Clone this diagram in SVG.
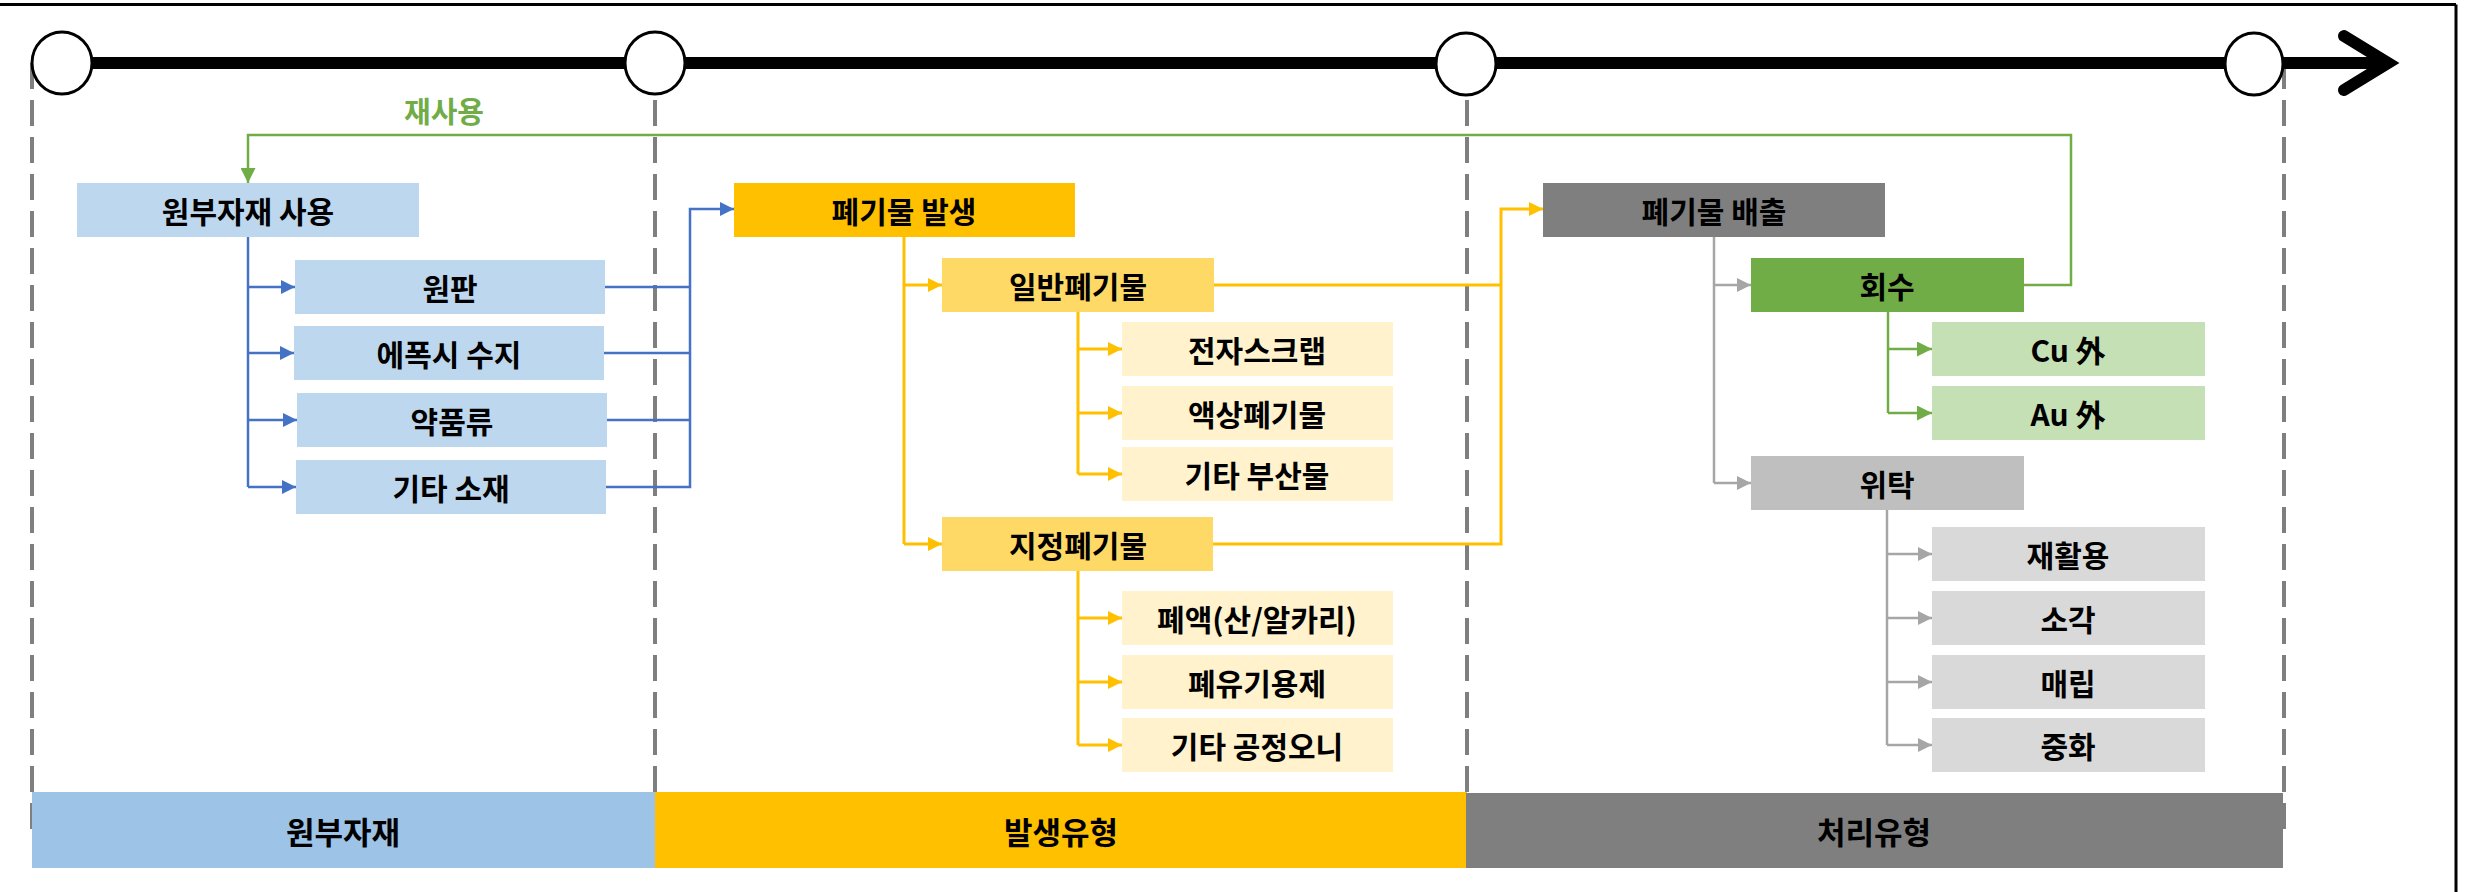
<svg xmlns="http://www.w3.org/2000/svg" width="2471" height="892" viewBox="0 0 2471 892">
<style>
text{font-family:"Noto Sans CJK KR","Noto Sans",sans-serif;font-weight:bold;font-size:30px;fill:#000;text-anchor:middle;dominant-baseline:central}
.band{font-size:31px}
.dash{stroke:#7f7f7f;stroke-width:4;stroke-dasharray:26 11;fill:none}
.cb{stroke:#4472c4;stroke-width:2.5;fill:none}
.co{stroke:#ffc000;stroke-width:3;fill:none}
.cg{stroke:#a6a6a6;stroke-width:2.5;fill:none}
.cgr{stroke:#70ad47;stroke-width:2.5;fill:none}
.circ{fill:#fff;stroke:#000;stroke-width:3}
</style>
<defs>
<marker id="ab" viewBox="0 0 10 10" refX="10" refY="5" markerWidth="15" markerHeight="14" markerUnits="userSpaceOnUse" orient="auto"><path d="M0,0L10,5L0,10z" fill="#4472c4"/></marker>
<marker id="ao" viewBox="0 0 10 10" refX="10" refY="5" markerWidth="15" markerHeight="14" markerUnits="userSpaceOnUse" orient="auto"><path d="M0,0L10,5L0,10z" fill="#ffc000"/></marker>
<marker id="ag" viewBox="0 0 10 10" refX="10" refY="5" markerWidth="16" markerHeight="14" markerUnits="userSpaceOnUse" orient="auto"><path d="M0,0L10,5L0,10z" fill="#a6a6a6"/></marker>
<marker id="agr" viewBox="0 0 10 10" refX="10" refY="5" markerWidth="16" markerHeight="15" markerUnits="userSpaceOnUse" orient="auto"><path d="M0,0L10,5L0,10z" fill="#70ad47"/></marker>
</defs>
<rect width="2471" height="892" fill="#fff"/>
<g id="frame">
<line x1="0" y1="4.5" x2="2456" y2="4.5" stroke="#000" stroke-width="3"/>
<line x1="2456" y1="4.5" x2="2456" y2="892" stroke="#000" stroke-width="3"/>
</g>
<g id="guides">
<line class="dash" x1="32" y1="63" x2="32" y2="830"/>
<line class="dash" x1="655" y1="63" x2="655" y2="792"/>
<line class="dash" x1="1467" y1="63" x2="1467" y2="792"/>
<line class="dash" x1="2284" y1="63" x2="2284" y2="830"/>
</g>
<g id="timeline">
<line x1="62" y1="63" x2="2388" y2="63" stroke="#000" stroke-width="12"/>
<polyline points="2344,36 2388,63 2344,90" fill="none" stroke="#000" stroke-width="12" stroke-linecap="round" stroke-linejoin="miter"/>
<ellipse class="circ" cx="62" cy="63" rx="30" ry="31"/>
<ellipse class="circ" cx="655" cy="63" rx="30" ry="31"/>
<ellipse class="circ" cx="1466" cy="64" rx="30" ry="31"/>
<ellipse class="circ" cx="2254" cy="64" rx="29" ry="31"/>
</g>
<g id="connectors">
<polyline class="cb" points="248,237 248,487"/>
<polyline class="cb" points="248,287 295,287" marker-end="url(#ab)"/>
<polyline class="cb" points="248,353 294,353" marker-end="url(#ab)"/>
<polyline class="cb" points="248,420 297,420" marker-end="url(#ab)"/>
<polyline class="cb" points="248,487 296,487" marker-end="url(#ab)"/>
<polyline class="cb" points="605,287 690,287"/>
<polyline class="cb" points="604,353 690,353"/>
<polyline class="cb" points="607,420 690,420"/>
<polyline class="cb" points="606,487 690,487 690,209 734,209" marker-end="url(#ab)"/>
<polyline class="co" points="904,237 904,544"/>
<polyline class="co" points="904,285 942,285" marker-end="url(#ao)"/>
<polyline class="co" points="904,544 942,544" marker-end="url(#ao)"/>
<polyline class="co" points="1078,312 1078,474"/>
<polyline class="co" points="1078,349 1122,349" marker-end="url(#ao)"/>
<polyline class="co" points="1078,413 1122,413" marker-end="url(#ao)"/>
<polyline class="co" points="1078,474 1122,474" marker-end="url(#ao)"/>
<polyline class="co" points="1078,571 1078,745"/>
<polyline class="co" points="1078,618 1122,618" marker-end="url(#ao)"/>
<polyline class="co" points="1078,682 1122,682" marker-end="url(#ao)"/>
<polyline class="co" points="1078,745 1122,745" marker-end="url(#ao)"/>
<polyline class="co" points="1214,285 1501,285"/>
<polyline class="co" points="1213,544 1501,544 1501,209 1543,209" marker-end="url(#ao)"/>
<polyline class="cg" points="1714,237 1714,483"/>
<polyline class="cg" points="1714,285 1751,285" marker-end="url(#ag)"/>
<polyline class="cg" points="1714,483 1751,483" marker-end="url(#ag)"/>
<polyline class="cg" points="1887,510 1887,745"/>
<polyline class="cg" points="1887,554 1932,554" marker-end="url(#ag)"/>
<polyline class="cg" points="1887,618 1932,618" marker-end="url(#ag)"/>
<polyline class="cg" points="1887,682 1932,682" marker-end="url(#ag)"/>
<polyline class="cg" points="1887,745 1932,745" marker-end="url(#ag)"/>
<polyline class="cgr" points="1888,312 1888,413"/>
<polyline class="cgr" points="1888,349 1932,349" marker-end="url(#agr)"/>
<polyline class="cgr" points="1888,413 1932,413" marker-end="url(#agr)"/>
<polyline class="cgr" points="2024,285 2071,285 2071,135 248,135 248,183" marker-end="url(#agr)"/>
<text x="444" y="110" style="fill:#70ad47;font-size:29px">재사용</text>
</g>
<g id="n-raw-use"><rect x="77" y="183" width="342" height="54" fill="#bdd7ee"/><text x="248" y="210">원부자재 사용</text></g>
<g id="n-wonpan"><rect x="295" y="260" width="310" height="54" fill="#bdd7ee"/><text x="450" y="287">원판</text></g>
<g id="n-epoxy"><rect x="294" y="326" width="310" height="54" fill="#bdd7ee"/><text x="449" y="353">에폭시 수지</text></g>
<g id="n-chem"><rect x="297" y="393" width="310" height="54" fill="#bdd7ee"/><text x="452" y="420">약품류</text></g>
<g id="n-etc-mat"><rect x="296" y="460" width="310" height="54" fill="#bdd7ee"/><text x="451" y="487">기타 소재</text></g>
<g id="n-waste-gen"><rect x="734" y="183" width="341" height="54" fill="#ffc000"/><text x="904" y="210">폐기물 발생</text></g>
<g id="n-general"><rect x="942" y="258" width="272" height="54" fill="#ffd966"/><text x="1078" y="285">일반폐기물</text></g>
<g id="n-escrap"><rect x="1122" y="322" width="271" height="54" fill="#fff2cc"/><text x="1257" y="349">전자스크랩</text></g>
<g id="n-liquid"><rect x="1122" y="386" width="271" height="54" fill="#fff2cc"/><text x="1257" y="413">액상폐기물</text></g>
<g id="n-byprod"><rect x="1122" y="447" width="271" height="54" fill="#fff2cc"/><text x="1257" y="474">기타 부산물</text></g>
<g id="n-designated"><rect x="942" y="517" width="271" height="54" fill="#ffd966"/><text x="1078" y="544">지정폐기물</text></g>
<g id="n-acid"><rect x="1122" y="591" width="271" height="54" fill="#fff2cc"/><text x="1257" y="618">폐액(산/알카리)</text></g>
<g id="n-solvent"><rect x="1122" y="655" width="271" height="54" fill="#fff2cc"/><text x="1257" y="682">폐유기용제</text></g>
<g id="n-sludge"><rect x="1122" y="718" width="271" height="54" fill="#fff2cc"/><text x="1257" y="745">기타 공정오니</text></g>
<g id="n-discharge"><rect x="1543" y="183" width="342" height="54" fill="#7f7f7f"/><text x="1714" y="210">폐기물 배출</text></g>
<g id="n-recover"><rect x="1751" y="258" width="273" height="54" fill="#70ad47"/><text x="1887" y="285">회수</text></g>
<g id="n-cu"><rect x="1932" y="322" width="273" height="54" fill="#c5e0b4"/><text x="2068" y="349">Cu 外</text></g>
<g id="n-au"><rect x="1932" y="386" width="273" height="54" fill="#c5e0b4"/><text x="2068" y="413">Au 外</text></g>
<g id="n-consign"><rect x="1751" y="456" width="273" height="54" fill="#bfbfbf"/><text x="1887" y="483">위탁</text></g>
<g id="n-recycle"><rect x="1932" y="527" width="273" height="54" fill="#d9d9d9"/><text x="2068" y="554">재활용</text></g>
<g id="n-incin"><rect x="1932" y="591" width="273" height="54" fill="#d9d9d9"/><text x="2068" y="618">소각</text></g>
<g id="n-landfill"><rect x="1932" y="655" width="273" height="54" fill="#d9d9d9"/><text x="2068" y="682">매립</text></g>
<g id="n-neutral"><rect x="1932" y="718" width="273" height="54" fill="#d9d9d9"/><text x="2068" y="745">중화</text></g>
<g id="bands">
<rect x="32" y="792" width="623" height="76" fill="#9dc3e6"/><text class="band" x="343" y="830">원부자재</text>
<rect x="655" y="792" width="812" height="76" fill="#ffc000"/><text class="band" x="1061" y="830">발생유형</text>
<rect x="1466" y="793" width="817" height="75" fill="#7f7f7f"/><text class="band" x="1874" y="830">처리유형</text>
</g>
</svg>
